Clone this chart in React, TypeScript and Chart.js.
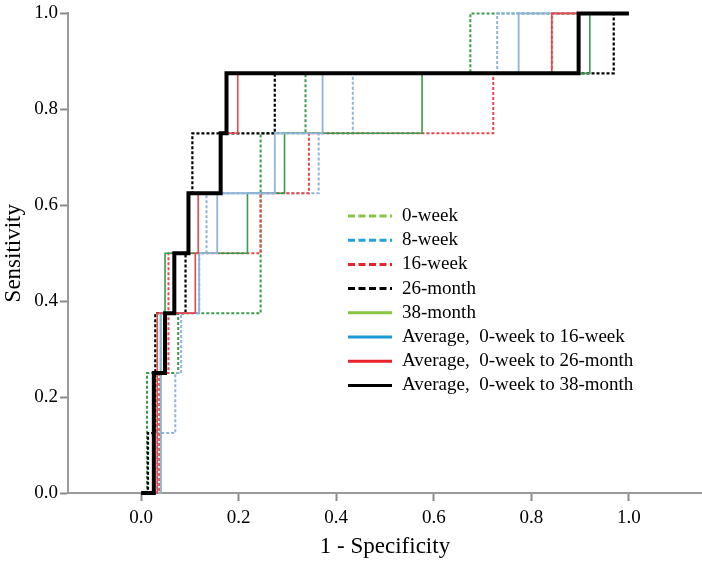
import React, { useEffect, useRef } from 'react';
import { Chart, registerables } from 'chart.js';

Chart.register(...registerables);

// ---- tick labels ----
const X_TICKS = [0, 0.2, 0.4, 0.6, 0.8, 1.0];
const Y_TICKS = [0, 0.2, 0.4, 0.6, 0.8, 1.0];

// ---- series names (legend order) ----
const SERIES_NAMES = [
  '0-week',
  '8-week',
  '16-week',
  '26-month',
  '38-month',
  'Average,  0-week to 16-week',
  'Average,  0-week to 26-month',
  'Average,  0-week to 38-month',
];

// ---- ROC coordinates (1 - specificity, sensitivity) ----
const FPR_0W = [0, 0.012, 0.012, 0.076, 0.076, 0.245, 0.245, 0.337, 0.337, 0.675, 0.675, 1];
const TPR_0W = [0, 0, 0.25, 0.25, 0.375, 0.375, 0.75, 0.75, 0.875, 0.875, 1, 1];

const FPR_8W = [0, 0.033, 0.033, 0.07, 0.07, 0.082, 0.082, 0.119, 0.119, 0.134, 0.134, 0.364, 0.364, 0.434, 0.434, 0.73, 0.73, 1];
const TPR_8W = [0, 0, 0.125, 0.125, 0.25, 0.25, 0.375, 0.375, 0.5, 0.5, 0.625, 0.625, 0.75, 0.75, 0.875, 0.875, 1, 1];

const FPR_16W = [0, 0.037, 0.037, 0.056, 0.056, 0.245, 0.245, 0.344, 0.344, 0.722, 0.722, 0.842, 0.842, 1];
const TPR_16W = [0, 0, 0.25, 0.25, 0.5, 0.5, 0.625, 0.625, 0.75, 0.75, 0.875, 0.875, 1, 1];

const FPR_26M = [0, 0.014, 0.014, 0.029, 0.029, 0.091, 0.091, 0.097, 0.097, 0.105, 0.105, 0.274, 0.274, 0.969, 0.969, 1];
const TPR_26M = [0, 0, 0.125, 0.125, 0.375, 0.375, 0.5, 0.5, 0.625, 0.625, 0.75, 0.75, 0.875, 0.875, 1, 1];

const FPR_38M = [0, 0.04, 0.04, 0.049, 0.049, 0.218, 0.218, 0.294, 0.294, 0.576, 0.576, 0.92, 0.92, 1];
const TPR_38M = [0, 0, 0.375, 0.375, 0.5, 0.5, 0.625, 0.625, 0.75, 0.75, 0.875, 0.875, 1, 1];

const FPR_AVG16W = [0, 0.04, 0.04, 0.119, 0.119, 0.156, 0.156, 0.274, 0.274, 0.372, 0.372, 0.774, 0.774, 1];
const TPR_AVG16W = [0, 0, 0.375, 0.375, 0.5, 0.5, 0.625, 0.625, 0.75, 0.75, 0.875, 0.875, 1, 1];

const FPR_AVG26M = [0, 0.033, 0.033, 0.111, 0.111, 0.117, 0.117, 0.163, 0.163, 0.198, 0.198, 0.842, 0.842, 1];
const TPR_AVG26M = [0, 0, 0.375, 0.375, 0.5, 0.5, 0.625, 0.625, 0.75, 0.75, 0.875, 0.875, 1, 1];

const FPR_AVG38M = [0, 0.026, 0.026, 0.049, 0.049, 0.068, 0.068, 0.097, 0.097, 0.163, 0.163, 0.175, 0.175, 0.897, 0.897, 1];
const TPR_AVG38M = [0, 0, 0.25, 0.25, 0.375, 0.375, 0.5, 0.5, 0.625, 0.625, 0.75, 0.75, 0.875, 0.875, 1, 1];

const FONT = '"Liberation Serif", "Times New Roman", serif';

const pts = (xs: number[], ys: number[]) => xs.map((x, i) => ({ x, y: ys[i] }));

// plot styles
const GREEN = '#3a9a4e';
const BLUE = '#8fb4da';
const RED = '#e8484a';
const BLACK = '#000000';

// legend styles
const LEG_STYLES = [
  { color: '#86c441', dash: true },
  { color: '#22a0e0', dash: true },
  { color: '#e82229', dash: true },
  { color: '#000000', dash: true },
  { color: '#86c441', dash: false },
  { color: '#1e9ad8', dash: false },
  { color: '#e82229', dash: false },
  { color: '#000000', dash: false },
];

const legendPlugin = {
  id: 'rocLegend',
  afterDraw(chart: any) {
    const ctx = chart.ctx as CanvasRenderingContext2D;
    const x0 = 348;
    const y0 = 216;
    const step = 24.2;
    ctx.save();
    ctx.font = `19px ${FONT}`;
    ctx.textBaseline = 'middle';
    ctx.textAlign = 'left';
    SERIES_NAMES.forEach((name, i) => {
      const st = LEG_STYLES[i];
      const y = y0 + i * step;
      ctx.beginPath();
      ctx.strokeStyle = st.color;
      ctx.lineWidth = 3;
      ctx.setLineDash(st.dash ? [7, 3.5] : []);
      ctx.moveTo(x0, y);
      ctx.lineTo(x0 + 44, y);
      ctx.stroke();
      ctx.setLineDash([]);
      ctx.fillStyle = '#000';
      ctx.fillText(name, x0 + 54, y);
    });
    ctx.restore();
  },
};

export default function App() {
  const ref = useRef<HTMLCanvasElement>(null);

  useEffect(() => {
    if (!ref.current) return;
    const mk = (label: string, xs: number[], ys: number[], color: string, width: number, dash: number[], order: number) => ({
      label,
      data: pts(xs, ys),
      showLine: true,
      borderColor: color,
      backgroundColor: color,
      borderWidth: width,
      borderDash: dash,
      pointRadius: 0,
      pointHoverRadius: 0,
      tension: 0,
      fill: false,
      clip: false as any,
      order,
      borderCapStyle: 'butt',
      borderJoinStyle: 'miter',
    });

    const datasets = [
      mk(SERIES_NAMES[0], FPR_0W, TPR_0W, GREEN, 2, [3, 2], 8),
      mk(SERIES_NAMES[1], FPR_8W, TPR_8W, BLUE, 2, [3, 2], 7),
      mk(SERIES_NAMES[2], FPR_16W, TPR_16W, RED, 2, [3, 2], 6),
      mk(SERIES_NAMES[3], FPR_26M, TPR_26M, BLACK, 2.2, [3, 2], 5),
      mk(SERIES_NAMES[4], FPR_38M, TPR_38M, GREEN, 1.6, [], 4),
      mk(SERIES_NAMES[5], FPR_AVG16W, TPR_AVG16W, BLUE, 1.8, [], 3),
      mk(SERIES_NAMES[6], FPR_AVG26M, TPR_AVG26M, RED, 1.6, [], 2),
      mk(SERIES_NAMES[7], FPR_AVG38M, TPR_AVG38M, BLACK, 4, [], 1),
    ];

    const axisGrid = {
      display: true,
      drawOnChartArea: false,
      drawTicks: true,
      tickLength: 8,
      tickColor: '#8a8a8a',
      tickWidth: 2,
    };
    const axisBorder = { display: true, color: '#9a9a9a', width: 2 };

    const chart = new Chart(ref.current, {
      type: 'scatter',
      data: { datasets: datasets as any },
      plugins: [legendPlugin],
      options: {
        responsive: false,
        devicePixelRatio: 1,
        animation: false,
        layout: { padding: { top: 5, left: 0, right: 0, bottom: 0 } },
        plugins: {
          legend: { display: false },
          tooltip: { enabled: false },
        },
        events: [],
        scales: {
          x: {
            type: 'linear',
            min: -0.15,
            max: 1.15,
            afterBuildTicks: (s: any) => {
              s.ticks = X_TICKS.map((v) => ({ value: v }));
            },
            afterFit: (s: any) => {
              s.height = 72;
            },
            ticks: {
              callback: (v: any) => Number(v).toFixed(1),
              font: { family: FONT, size: 19 },
              color: '#000',
              padding: 6,
              maxRotation: 0,
              autoSkip: false,
            },
            grid: axisGrid as any,
            border: axisBorder as any,
            title: {
              display: true,
              text: '1 - Specificity',
              font: { family: FONT, size: 23 },
              color: '#000',
              padding: { top: 0, bottom: 4 },
            },
          },
          y: {
            type: 'linear',
            min: 0,
            max: 1,
            afterBuildTicks: (s: any) => {
              s.ticks = Y_TICKS.map((v) => ({ value: v }));
            },
            afterFit: (s: any) => {
              s.width = 68;
            },
            ticks: {
              callback: (v: any) => Number(v).toFixed(1),
              font: { family: FONT, size: 19 },
              color: '#000',
              padding: 2,
              autoSkip: false,
            },
            grid: axisGrid as any,
            border: axisBorder as any,
            title: {
              display: true,
              text: 'Sensitivity',
              font: { family: FONT, size: 23 },
              color: '#000',
              padding: { top: 0, bottom: 0 },
            },
          },
        },
      } as any,
    });
    return () => chart.destroy();
  }, []);

  return (
    <div style={{ position: 'absolute', left: 0, top: 0, width: 702, height: 565, background: '#fff' }}>
      <canvas ref={ref} width={702} height={565} style={{ display: 'block', width: 702, height: 565 }} />
    </div>
  );
}
